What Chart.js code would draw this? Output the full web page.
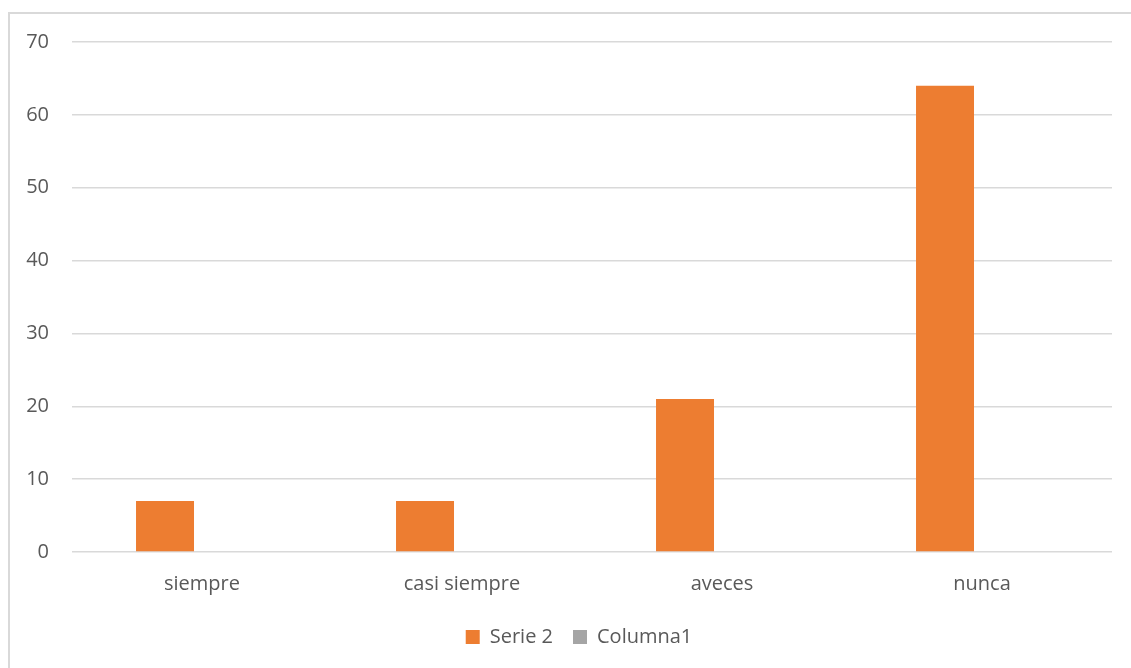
<!DOCTYPE html>
<html>
<head>
<meta charset="utf-8">
<script src="https://cdn.jsdelivr.net/npm/chart.js@4/dist/chart.umd.min.js"></script>
<style>
    body { margin: 0; background: #fff; overflow: hidden; }
    #marco { position: absolute; left: 8px; top: 12px; width: 1200px; height: 700px; border: 2px solid #d9d9d9; box-sizing: border-box; }
    #contenedor { position: absolute; left: 0; top: 0; width: 1131px; height: 668px; }
</style>
</head>
<body>
<div id="marco"></div>
<div id="contenedor"><canvas id="miGrafico"></canvas></div>
<script>
// Datos
var categorias = ["siempre", "casi siempre", "aveces", "nunca"];
var serie2 = [7, 7, 21, 64];
var columna1 = [0, 0, 0, 0];
var ticksY = [0, 10, 20, 30, 40, 50, 60, 70];

var gris = "#595959";
var fuente = { family: "'Open Sans', 'Noto Sans', sans-serif", size: 20 };

// Mueve la leyenda un poco a la derecha, como en el original
var moverLeyenda = {
    id: "moverLeyenda",
    afterLayout: function (chart) {
        if (chart.legend) {
            chart.legend.left += 19;
            chart.legend.right += 19;
        }
    },
};

var ctx = document.getElementById("miGrafico").getContext("2d");
var myChart = new Chart(ctx, {
    type: "bar",
    data: {
        labels: categorias,
        datasets: [
            {
                label: "Serie 2",
                data: serie2,
                backgroundColor: "#ed7d31",
                borderWidth: 0,
                categoryPercentage: 0.569,
                barPercentage: 0.784,
            },
            {
                label: "Columna1",
                data: columna1,
                backgroundColor: "#a5a5a5",
                borderWidth: 0,
                categoryPercentage: 0.569,
                barPercentage: 0.784,
            },
        ],
    },
    options: {
        responsive: true,
        maintainAspectRatio: false,
        animation: false,
        layout: { padding: { left: 8, right: 19, top: 42, bottom: 11 } },
        plugins: {
            tooltip: { enabled: false },
            legend: {
                position: "bottom",
                labels: {
                    color: gris,
                    font: fuente,
                    boxWidth: 14,
                    boxHeight: 14,
                    padding: 20,
                },
            },
        },
        scales: {
            x: {
                grid: { display: false },
                border: { display: false },
                ticks: { color: gris, font: fuente, padding: 12 },
                afterFit: function (scale) { scale.height = 55; },
            },
            y: {
                min: 0,
                max: 70,
                afterBuildTicks: function (scale) {
                    scale.ticks = ticksY.map(function (v) { return { value: v }; });
                },
                grid: { color: "#d9d9d9", lineWidth: 1.5, drawTicks: false },
                border: { display: false },
                ticks: { color: gris, font: fuente, padding: 23 },
                afterFit: function (scale) { scale.width = 64; },
            },
        },
    },
    plugins: [moverLeyenda],
});
</script>
</body>
</html>
